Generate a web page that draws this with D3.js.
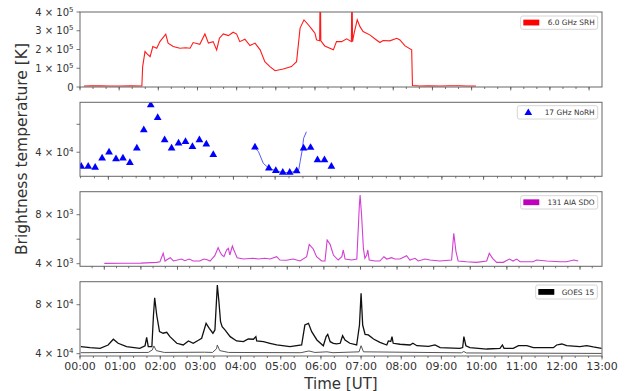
<!DOCTYPE html>
<html><head><meta charset="utf-8">
<script src="https://cdn.jsdelivr.net/npm/d3@7"></script>
<style>
body{margin:0;background:#fff}
svg{display:block}
text{font-family:"DejaVu Sans",sans-serif;fill:#333}
</style></head>
<body><svg id="chart" width="627" height="391"></svg>
<script>
// ---------- DATA ----------
const hourLabels = ["00:00","01:00","02:00","03:00","04:00","05:00","06:00","07:00","08:00","09:00","10:00","11:00","12:00","13:00"];

// 6.0 GHz SRH (time in hours, brightness temperature K)
const srhHours = [0.10,0.30,0.51,0.75,1.02,1.30,1.58,1.60,1.66,1.72,1.79,1.86,1.96,2.04,2.19,2.25,2.38,2.55,2.70,2.81,2.89,3.06,3.19,3.28,3.40,3.49,3.56,3.66,3.79,3.91,4.00,4.08,4.21,4.34,4.47,4.60,4.72,4.85,4.98,5.19,5.40,5.53,5.62,5.72,5.83,5.92,6.00,6.04,6.12,6.135,6.15,6.25,6.47,6.55,6.68,6.81,6.93,6.945,6.96,7.00,7.08,7.15,7.23,7.40,7.57,7.66,7.74,7.91,8.09,8.17,8.30,8.47,8.49,8.68,8.90,9.19,9.45,9.70,9.90,10.11];
const srhK = [5e3,6e3,7e3,5e3,5e3,6e3,5e3,109e3,189e3,175e3,162e3,216e3,207e3,242e3,282e3,234e3,216e3,207e3,209e3,207e3,237e3,228e3,283e3,234e3,242e3,198e3,260e3,283e3,274e3,292e3,282e3,242e3,255e3,221e3,234e3,198e3,135e3,109e3,87e3,96e3,109e3,135e3,314e3,358e3,332e3,309e3,287e3,251e3,246e3,600e3,246e3,219e3,198e3,242e3,242e3,257e3,242e3,600e3,242e3,287e3,358e3,322e3,296e3,278e3,251e3,237e3,248e3,246e3,260e3,251e3,219e3,198e3,8e3,5e3,6e3,5e3,7e3,7e3,5e3,5e3];

// 17 GHz NoRH points (minutes, K)
const norhMinutes = [21,31,41,51,61,71,81,91,101,111,121,131,141,151,161,171,181,191,201,211,271,291,301,311,321,331,341,351,361,371,381];
const norhK = [35.7e3,35.7e3,35.4e3,38.1e3,40.0e3,37.9e3,38.1e3,36.8e3,41.3e3,47.8e3,58.3e3,52.7e3,44.1e3,41.3e3,43.0e3,43.5e3,41.8e3,44.1e3,42.6e3,39.2e3,41.6e3,35.2e3,34.5e3,34.0e3,34.0e3,34.4e3,41.3e3,41.5e3,37.6e3,37.6e3,35.7e3];
// 17 GHz NoRH continuous segment
const norhLineMinutes = [270,276,283,288,291,301,311,321,331,334,336,339,341,345];
const norhLineK = [41.6e3,40.2e3,36.6e3,35.7e3,35.2e3,34.5e3,34.0e3,34.0e3,34.4e3,34.8e3,37.1e3,40.7e3,44.7e3,47.1e3];

// 131 AIA SDO (hours, K)
const aiaHours = [0.00,0.50,1.00,1.43,1.52,1.61,1.66,1.70,1.80,1.89,2.11,2.20,2.32,2.43,2.61,2.72,2.81,2.89,3.02,3.11,3.16,3.21,3.27,3.34,3.39,3.43,3.50,3.54,3.63,3.80,4.07,4.21,4.39,4.53,4.71,4.80,4.98,5.16,5.35,5.53,5.60,5.71,5.80,5.94,6.03,6.09,6.17,6.26,6.39,6.49,6.53,6.58,6.76,6.90,6.97,6.99,7.03,7.08,7.12,7.17,7.20,7.24,7.40,7.53,7.64,7.72,7.85,7.94,8.08,8.26,8.35,8.49,8.58,8.76,8.90,9.17,9.49,9.55,9.61,9.67,9.90,10.17,10.45,10.52,10.61,10.72,10.90,11.07,11.17,11.27,11.36,11.72,11.81,12.09,12.45,12.63,12.83,12.95];
const aiaK = [4030,4040,4050,4110,4160,4850,4220,4300,4490,4220,4380,4240,4380,4220,4220,4380,4330,4220,4650,5310,4980,4710,4570,5120,5260,4710,5440,5120,4490,4380,4440,4380,4440,4380,4570,4300,4280,4380,4220,4570,5580,5200,4570,4220,4220,5930,5580,4710,4300,4570,5120,4380,4300,4380,8790,9610,7980,5260,4440,4710,5120,4300,4220,4220,4570,4380,4490,4380,4380,4650,4300,4440,4220,4380,4300,4220,4300,6480,4980,4220,4160,4110,4220,4850,4440,4110,4110,4380,4220,4380,4160,4160,4300,4220,4160,4160,4300,4220];

// GOES 15 (hours, K) – upper and lower channel
const goesHours = [0.02,0.25,0.50,0.70,0.83,0.95,1.16,1.49,1.62,1.66,1.70,1.79,1.83,1.86,1.91,1.98,2.07,2.16,2.24,2.41,2.57,2.70,2.82,2.96,3.03,3.14,3.22,3.31,3.36,3.42,3.46,3.50,3.54,3.61,3.74,3.90,4.07,4.19,4.32,4.38,4.40,4.57,4.73,4.90,5.23,5.52,5.60,5.69,5.77,5.90,6.06,6.13,6.17,6.23,6.31,6.39,6.48,6.54,6.60,6.72,6.89,6.96,7.00,7.04,7.10,7.18,7.31,7.47,7.64,7.68,7.74,7.77,7.80,7.97,8.22,8.29,8.39,8.68,8.84,8.97,9.46,9.53,9.56,9.61,9.71,10.13,10.46,10.52,10.56,10.79,10.92,11.13,11.29,11.79,11.87,12.00,12.12,12.45,12.62,12.78,12.99];
const goesHighK = [45.7e3,44.9e3,44.4e3,47.1e3,51.8e3,48.5e3,45.7e3,44.4e3,46.5e3,53.4e3,45.7e3,45.7e3,71.6e3,85.7e3,71.6e3,58.0e3,56.7e3,57.5e3,53.9e3,48.5e3,47.1e3,50.4e3,48.5e3,51.2e3,52.6e3,64.8e3,60.7e3,56.7e3,59.4e3,96.1e3,82.4e3,66.1e3,62.0e3,59.4e3,53.9e3,50.4e3,49.8e3,52.0e3,51.8e3,53.9e3,50.4e3,49.8e3,48.5e3,47.1e3,45.7e3,47.1e3,63.4e3,64.8e3,58.0e3,51.2e3,46.5e3,53.9e3,55.8e3,49.8e3,48.5e3,48.0e3,48.5e3,54.7e3,51.2e3,48.5e3,47.1e3,63.4e3,89.3e3,63.4e3,55.8e3,55.3e3,52.0e3,49.3e3,47.1e3,50.4e3,50.0e3,53.9e3,48.5e3,47.7e3,47.1e3,48.5e3,46.5e3,46.0e3,47.1e3,44.9e3,44.4e3,45.0e3,53.9e3,46.5e3,44.9e3,43.8e3,44.4e3,47.1e3,44.4e3,44.4e3,46.5e3,46.5e3,44.9e3,44.9e3,47.1e3,47.9e3,46.5e3,45.7e3,46.5e3,45.5e3,44.4e3];
const goesLowHours = [0.02,1.70,1.80,1.84,1.90,2.10,3.10,3.30,3.40,3.42,3.48,3.70,5.50,5.70,5.85,6.15,6.30,6.95,7.00,7.06,9.50,9.56,9.62,12.99];
const goesLowK = [40.8e3,41.0e3,43.0e3,46.3e3,42.5e3,41.0e3,41.2e3,41.0e3,44.0e3,47.1e3,42.5e3,41.0e3,40.8e3,42.2e3,41.0e3,41.5e3,40.8e3,41.5e3,46.5e3,41.5e3,40.7e3,41.8e3,40.6e3,40.2e3];

const legendNames = ["6.0 GHz SRH","17 GHz NoRH","131 AIA SDO","GOES 15"];

// ---------- DRAWING ----------
const svg = d3.select("#chart");
const L = 80, R = 602;
const panels = [
  {top:12, bottom:87},
  {top:102.3, bottom:176.3},
  {top:191.7, bottom:266.3},
  {top:281.7, bottom:356}
];

// x scales (each panel has its own time axis)
const x1 = d3.scaleLinear().domain([0, 13.33]).range([L, R]);
const x2 = d3.scaleLinear().domain([0.32*60, 12.84*60]).range([L, R]);
const x3 = d3.scaleLinear().domain([-0.664, 13.6]).range([L, R]);
const x4 = d3.scaleLinear().domain([0, 13]).range([L, R]);

const y1 = d3.scaleLinear().domain([0, 4e5]).range([panels[0].bottom, panels[0].top]);
const y2 = d3.scaleLog().domain([3.30e4, 5.96e4]).range([panels[1].bottom, panels[1].top]);
const y3 = d3.scaleLinear().domain([3788, 9878]).range([panels[2].bottom, panels[2].top]);
const y4 = d3.scaleLinear().domain([38.1e3, 98.8e3]).range([panels[3].bottom, panels[3].top]);

const defs = svg.append("defs");
panels.forEach((p,i)=>{
  defs.append("clipPath").attr("id","clip"+i).append("rect")
    .attr("x",L).attr("y",p.top).attr("width",R-L).attr("height",p.bottom-p.top);
});

function sciLabel(sel, mant, exp){
  sel.text(null);
  if(mant===null){ return; }
  sel.append("tspan").text(mant + " \u00d7 10");
  sel.append("tspan").attr("dy",-4).attr("font-size",7).text(exp);
}

function xTicks(p, xs, majors, stepMinor, labels){
  const g = svg.append("g");
  const [d0,d1] = xs.domain();
  const minors = [];
  for(let v = Math.ceil(d0/stepMinor)*stepMinor; v<=d1+1e-9; v+=stepMinor) minors.push(v);
  g.selectAll("line.mn").data(minors).join("line")
    .attr("x1",d=>xs(d)).attr("x2",d=>xs(d))
    .attr("y1",p.bottom).attr("y2",p.bottom+2).attr("stroke","#555").attr("stroke-width",0.8);
  g.selectAll("line.mj").data(majors).join("line")
    .attr("x1",d=>xs(d)).attr("x2",d=>xs(d))
    .attr("y1",p.bottom).attr("y2",p.bottom+3.5).attr("stroke","#555").attr("stroke-width",0.8);
  if(labels){
    g.selectAll("text").data(majors).join("text")
      .attr("x",d=>xs(d)).attr("y",370).attr("text-anchor","middle")
      .attr("font-size",11).text((d,i)=>labels[i]);
  }
}

function yTicks(p, ys, ticks){
  const g = svg.append("g");
  ticks.forEach(t=>{
    g.append("line").attr("x1",L-3.5).attr("x2",L).attr("y1",ys(t.v)).attr("y2",ys(t.v))
      .attr("stroke","#555").attr("stroke-width",0.8);
    if(t.m!==undefined){
      const tx = g.append("text").attr("x",73.5).attr("y",ys(t.v)+3.6)
        .attr("text-anchor","end").attr("font-size",10);
      if(t.e===undefined) tx.text(t.m); else sciLabel(tx,t.m,t.e);
    }
  });
}

function frame(p){
  svg.append("rect").attr("x",L).attr("y",p.top).attr("width",R-L).attr("height",p.bottom-p.top)
    .attr("fill","none").attr("stroke","#666").attr("stroke-width",1);
}

function legend(p, box, kind, color, name){
  const g = svg.append("g");
  g.append("rect").attr("x",box.x).attr("y",box.y).attr("width",box.w).attr("height",box.h)
    .attr("rx",2).attr("fill","#fff").attr("fill-opacity",0.8).attr("stroke","#ccc").attr("stroke-width",0.8);
  if(kind==="patch"){
    g.append("rect").attr("x",box.x+2.6).attr("y",box.y+box.h/2-3).attr("width",16).attr("height",5.8).attr("fill",color);
  } else {
    g.append("path").attr("d",d3.symbol(d3.symbolTriangle,26)())
      .attr("transform",`translate(${box.x+11},${box.y+box.h/2+0.5})`).attr("fill",color);
  }
  g.append("text").attr("x",box.x+box.w-3).attr("y",box.y+box.h/2+2.7)
    .attr("text-anchor","end").attr("font-size",7.4).text(name);
}

// ----- Panel 1: SRH -----
{
  const p = panels[0];
  const line = d3.line().x((d,i)=>x1(srhHours[i])).y(d=>y1(d));
  svg.append("path").datum(srhK).attr("d",line).attr("clip-path","url(#clip0)")
    .attr("fill","none").attr("stroke","#ff1a1a").attr("stroke-width",1.1);
  frame(p);
  xTicks(p, x1, d3.range(0,14), 1/3, null);
  yTicks(p, y1, [{v:0,m:"0"},{v:1e5,m:1,e:5},{v:2e5,m:2,e:5},{v:3e5,m:3,e:5},{v:4e5,m:4,e:5}]);
  legend(p,{x:520.7,y:16,w:77,h:13.3},"patch","#ff0000",legendNames[0]);
}

// ----- Panel 2: NoRH -----
{
  const p = panels[1];
  const line = d3.line().x((d,i)=>x2(norhLineMinutes[i])).y(d=>y2(d));
  svg.append("path").datum(norhLineK).attr("d",line).attr("clip-path","url(#clip1)")
    .attr("fill","none").attr("stroke","#3a3aff").attr("stroke-width",1).attr("stroke-opacity",0.85);
  svg.append("g").attr("clip-path","url(#clip1)").selectAll("path").data(norhK).join("path")
    .attr("d",d3.symbol(d3.symbolTriangle,26)())
    .attr("transform",(d,i)=>`translate(${x2(norhMinutes[i])},${y2(d)})`)
    .attr("fill","#0000ff");
  frame(p);
  xTicks(p, x2, d3.range(60, 12.84*60, 60), 20, null);
  yTicks(p, y2, [{v:4e4,m:4,e:4},{v:5e4}]);
  legend(p,{x:517.3,y:105.7,w:80.4,h:13.3},"tri","#0000ff",legendNames[1]);
}

// ----- Panel 3: AIA -----
{
  const p = panels[2];
  const line = d3.line().x((d,i)=>x3(aiaHours[i])).y(d=>y3(d));
  svg.append("path").datum(aiaK).attr("d",line).attr("clip-path","url(#clip2)")
    .attr("fill","none").attr("stroke","#d23fd2").attr("stroke-width",1.1);
  frame(p);
  xTicks(p, x3, d3.range(0,14), 1/3, null);
  yTicks(p, y3, [{v:4000,m:4,e:3},{v:6000},{v:8000,m:8,e:3}]);
  legend(p,{x:520.7,y:195.7,w:77,h:13.3},"patch","#bf00bf",legendNames[2]);
}

// ----- Panel 4: GOES -----
{
  const p = panels[3];
  const lineH = d3.line().x((d,i)=>x4(goesHours[i])).y(d=>y4(d));
  const lineL = d3.line().x((d,i)=>x4(goesLowHours[i])).y(d=>y4(d));
  svg.append("path").datum(goesLowK).attr("d",lineL).attr("clip-path","url(#clip3)")
    .attr("fill","none").attr("stroke","#555").attr("stroke-width",1);
  svg.append("path").datum(goesHighK).attr("d",lineH).attr("clip-path","url(#clip3)")
    .attr("fill","none").attr("stroke","#111").attr("stroke-width",1.3);
  frame(p);
  xTicks(p, x4, d3.range(0,14), 1/3, hourLabels);
  yTicks(p, y4, [{v:4e4,m:4,e:4},{v:6e4},{v:8e4,m:8,e:4}]);
  legend(p,{x:535.7,y:285,w:61.6,h:14},"patch","#000000",legendNames[3]);
}

// axis titles
svg.append("text").attr("transform","translate(27,149) rotate(-90)")
  .attr("text-anchor","middle").attr("font-size",15.5).text("Brightness temperature [K]");
svg.append("text").attr("x",341).attr("y",388.5).attr("text-anchor","middle")
  .attr("font-size",15).text("Time [UT]");
</script></body></html>
